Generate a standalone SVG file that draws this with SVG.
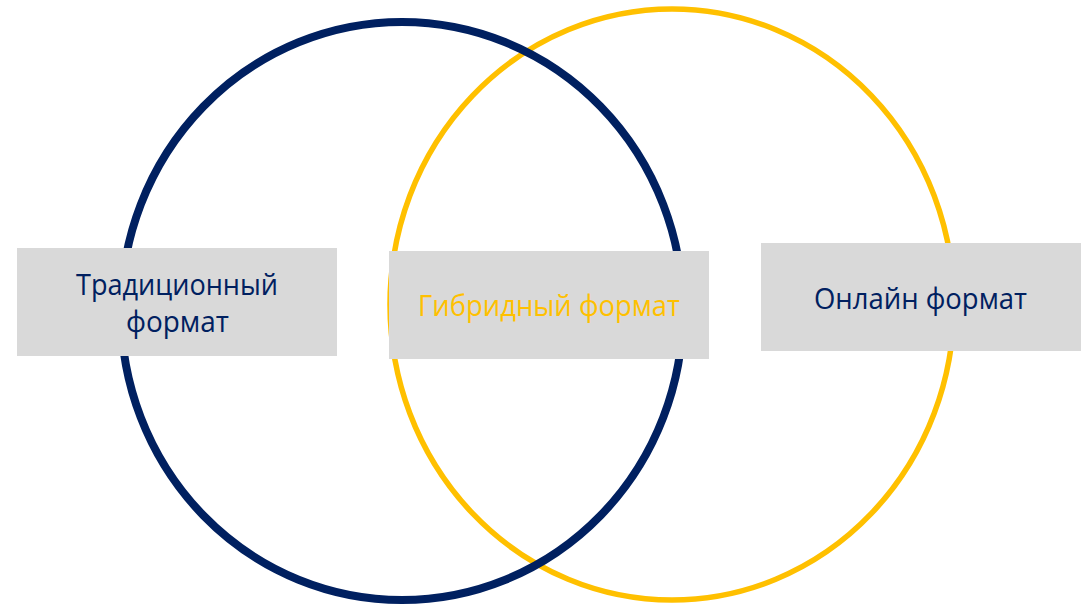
<svg xmlns="http://www.w3.org/2000/svg" width="1089" height="604" viewBox="0 0 1089 604">
  <style>
    .box { fill: #D9D9D9; }
    .lbl { font-family: "Open Sans", "Noto Sans", "DejaVu Sans", sans-serif; font-size: 28.5px; text-anchor: middle; }
    .navy { fill: #002060; }
    .gold { fill: #FFC000; }
  </style>
  <rect width="1089" height="604" fill="#FFFFFF"/>
  <g id="circles">
    <ellipse id="circle-online" cx="672" cy="304.5" rx="282" ry="295.5" fill="none" stroke="#FFC000" stroke-width="5.5"/>
    <ellipse id="circle-traditional" cx="402" cy="311" rx="281" ry="289" fill="none" stroke="#002060" stroke-width="8"/>
  </g>
  <g id="connectors"></g>
  <g id="node-traditional">
    <rect class="box" x="17" y="248" width="320" height="108"/>
    <text class="lbl navy" x="177" y="295" textLength="202" lengthAdjust="spacingAndGlyphs">Традиционный</text>
    <text class="lbl navy" x="177.5" y="332" textLength="103" lengthAdjust="spacingAndGlyphs">формат</text>
  </g>
  <g id="node-hybrid">
    <rect class="box" x="389" y="251" width="320" height="108"/>
    <text class="lbl gold" x="549" y="316" textLength="262" lengthAdjust="spacingAndGlyphs">Гибридный формат</text>
  </g>
  <g id="node-online">
    <rect class="box" x="761" y="243" width="320" height="108"/>
    <text class="lbl navy" x="920.5" y="308.5" textLength="213" lengthAdjust="spacingAndGlyphs">Онлайн формат</text>
  </g>
</svg>
